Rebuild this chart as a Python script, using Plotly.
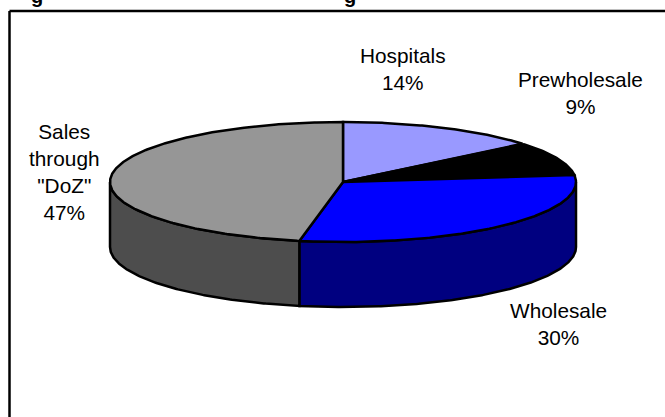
import numpy as np
import plotly.graph_objects as go

# Market shares by distribution channel, clockwise from twelve o'clock
categories = ["Hospitals", "Prewholesale", "Wholesale", "Sales through \"DoZ\""]
shares = [14, 9, 30, 47]
top_colors = ["#9999FF", "#000000", "#0000FF", "#969696"]
side_colors = ["#4D4D80", "#000000", "#000080", "#4D4D4D"]
label_lines = ["Hospitals<br>14%", "Prewholesale<br>9%", "Wholesale<br>30%",
               "Sales<br>through<br>\"DoZ\"<br>47%"]

# Projected disc geometry in page pixels
CX, CY, RX, RY, DEPTH = 343, 182, 233, 60, 65
WIDTH, HEIGHT = 665, 417
FONT = "Liberation Sans, Arial, sans-serif"
EDGE = dict(color="black", width=2.5)


def arc(start, end, drop=0.0):
    """Points on the projected ellipse between two angles in degrees."""
    n = max(2, int(abs(end - start) * 2))
    t = np.radians(np.linspace(start, end, n))
    return CX + RX * np.cos(t), CY - RY * np.sin(t) + drop


fig = go.Figure()

# Each slice runs clockwise from the top; angles follow the running total
edges = 90 - 3.6 * np.concatenate([[0], np.cumsum(shares)])

# Rim: only the part of a slice in the front half of the ellipse shows
for i, name in enumerate(categories):
    a, b = min(edges[i], 0), max(edges[i + 1], -180)
    if a <= b or edges[i] <= -180:
        continue
    ux, uy = arc(a, b)
    lx, ly = arc(b, a, DEPTH)
    fig.add_trace(go.Scatter(
        x=np.r_[ux, lx, ux[0]], y=np.r_[uy, ly, uy[0]], mode="lines",
        fill="toself", fillcolor=side_colors[i],
        line=EDGE, hoverinfo="skip", showlegend=False,
    ))

# Top faces
for i, name in enumerate(categories):
    ax, ay = arc(edges[i], edges[i + 1])
    fig.add_trace(go.Scatter(
        x=np.r_[CX, ax, CX], y=np.r_[CY, ay, CY], mode="lines",
        fill="toself", fillcolor=top_colors[i], name=name,
        line=EDGE, showlegend=False,
    ))

# Slice labels
label_positions = [(403, 69), (580, 93), (558, 324), (64, 172)]
for text, (x, y) in zip(label_lines, label_positions):
    fig.add_annotation(x=x, y=y, text=text, showarrow=False, xanchor="center",
                       yanchor="middle", align="center",
                       font=dict(family=FONT, size=20.8, color="black"))

# Caption above the frame, cropped by the top of the page
for x in (37, 350):
    fig.add_annotation(x=x, y=3, text="<b>g</b>", showarrow=False, xanchor="center",
                       yanchor="bottom", yshift=-6,
                       font=dict(family=FONT, size=20, color="black"))

# Frame runs past the right and bottom of the page
fig.add_shape(type="line", x0=9.5, x1=WIDTH + 5, y0=11, y1=11, line=EDGE)
fig.add_shape(type="line", x0=9.5, x1=9.5, y0=11, y1=HEIGHT + 5, line=EDGE)

fig.update_xaxes(range=[0, WIDTH], visible=False)
fig.update_yaxes(range=[HEIGHT, 0], visible=False)
fig.update_layout(width=WIDTH, height=HEIGHT, margin=dict(l=0, r=0, t=0, b=0),
                  paper_bgcolor="white", plot_bgcolor="white", showlegend=False)
fig.write_html("out.html", config=dict(displayModeBar=False))
